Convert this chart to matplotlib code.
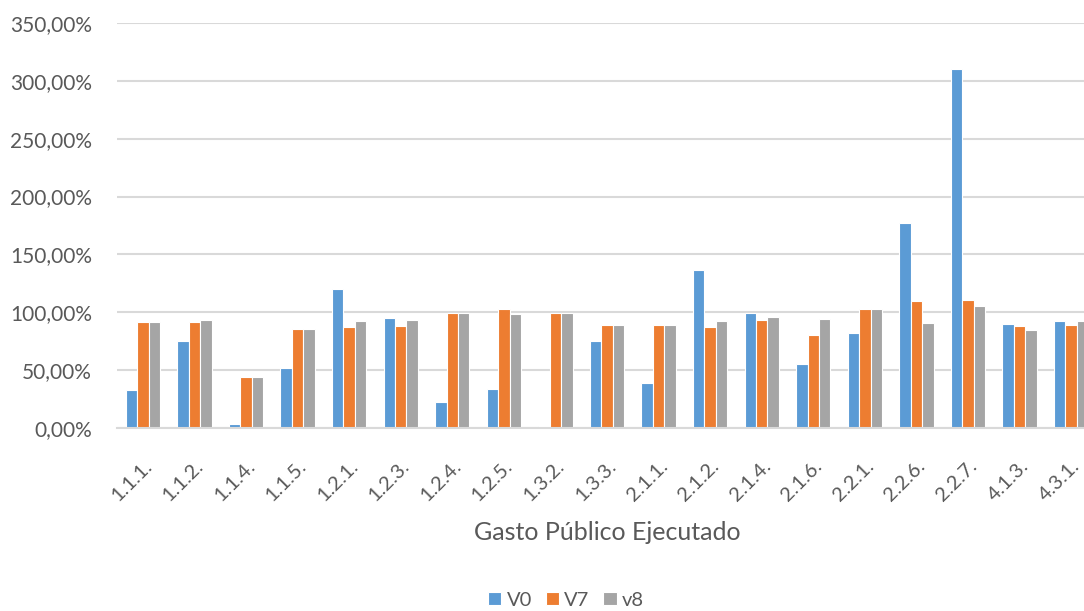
import numpy as np
import matplotlib
matplotlib.use("Agg")
import matplotlib.pyplot as plt
from matplotlib.ticker import FuncFormatter

# Data (percent)
categories = ["1.1.1.", "1.1.2.", "1.1.4.", "1.1.5.", "1.2.1.", "1.2.3.", "1.2.4.",
              "1.2.5.", "1.3.2.", "1.3.3.", "2.1.1.", "2.1.2.", "2.1.4.", "2.1.6.",
              "2.2.1.", "2.2.6.", "2.2.7.", "4.1.3.", "4.3.1."]
v0 = [33.1, 75.2, 3.7, 51.6, 120.2, 95.2, 22.8, 33.7, 2.0, 75.5,
      39.2, 136.3, 99.7, 55.6, 82.4, 177.3, 310.5, 90.2, 92.8]
v7 = [91.3, 91.6, 43.8, 85.3, 87.6, 88.5, 99.7, 102.6, 99.7, 89.4,
      89.1, 87.6, 93.7, 80.7, 102.9, 109.5, 110.7, 87.9, 89.4]
v8 = [91.3, 93.7, 43.8, 85.3, 92.5, 93.1, 99.7, 98.6, 99.7, 89.4,
      89.1, 92.8, 96.3, 94.0, 102.9, 91.1, 105.8, 85.0, 92.2]
series_names = ["V0", "V7", "v8"]
colors = ["#5b9bd5", "#ed7d31", "#a5a5a5"]

plt.rcParams["font.family"] = ["Lato", "DejaVu Sans"]
text_color = "#595959"

fig = plt.figure(figsize=(10.84, 6.11), dpi=100)
ax = fig.add_axes([117 / 1084, 183 / 611, 980 / 1084, 405 / 611])

x = np.arange(len(categories))
bar_w = 0.222
for i, (vals, name, col) in enumerate(zip([v0, v7, v8], series_names, colors)):
    ax.bar(x + (i - 1) * bar_w, vals, width=bar_w, color=col, label=name,
           edgecolor="white", linewidth=0.8, zorder=3)

ax.set_xlim(-0.5, len(categories) - 0.5)
ax.set_ylim(0, 350)
ax.set_yticks(np.arange(0, 351, 50))
ax.yaxis.set_major_formatter(FuncFormatter(lambda v, p: f"{v:.2f}%".replace(".", ",")))
ax.grid(axis="y", color="#d9d9d9", linewidth=1.5, zorder=0)
ax.set_axisbelow(True)

for s in ["top", "right", "left"]:
    ax.spines[s].set_visible(False)
ax.spines["bottom"].set_color("#d9d9d9")
ax.spines["bottom"].set_linewidth(1.5)
ax.spines["bottom"].set_zorder(4)

ax.tick_params(axis="y", length=0, labelsize=15, labelcolor=text_color, pad=18)
ax.tick_params(axis="x", length=0, labelsize=14.5, labelcolor=text_color, pad=21)
ax.set_xticks(x)
ax.set_xticklabels(categories, rotation=45, ha="right", rotation_mode="anchor")

fig.text(607 / 1084, 1 - 533 / 611, "Gasto Público Ejecutado", ha="center", va="center",
         fontsize=18, color=text_color)

leg = fig.legend(loc="center", bbox_to_anchor=(566 / 1084, 1 - 600 / 611), ncol=3,
                 frameon=False, fontsize=14.5, handlelength=0.65, handleheight=0.65,
                 handletextpad=0.25, columnspacing=0.7, borderpad=0.1)
for t in leg.get_texts():
    t.set_color(text_color)

fig.savefig("out.png", dpi=100)
